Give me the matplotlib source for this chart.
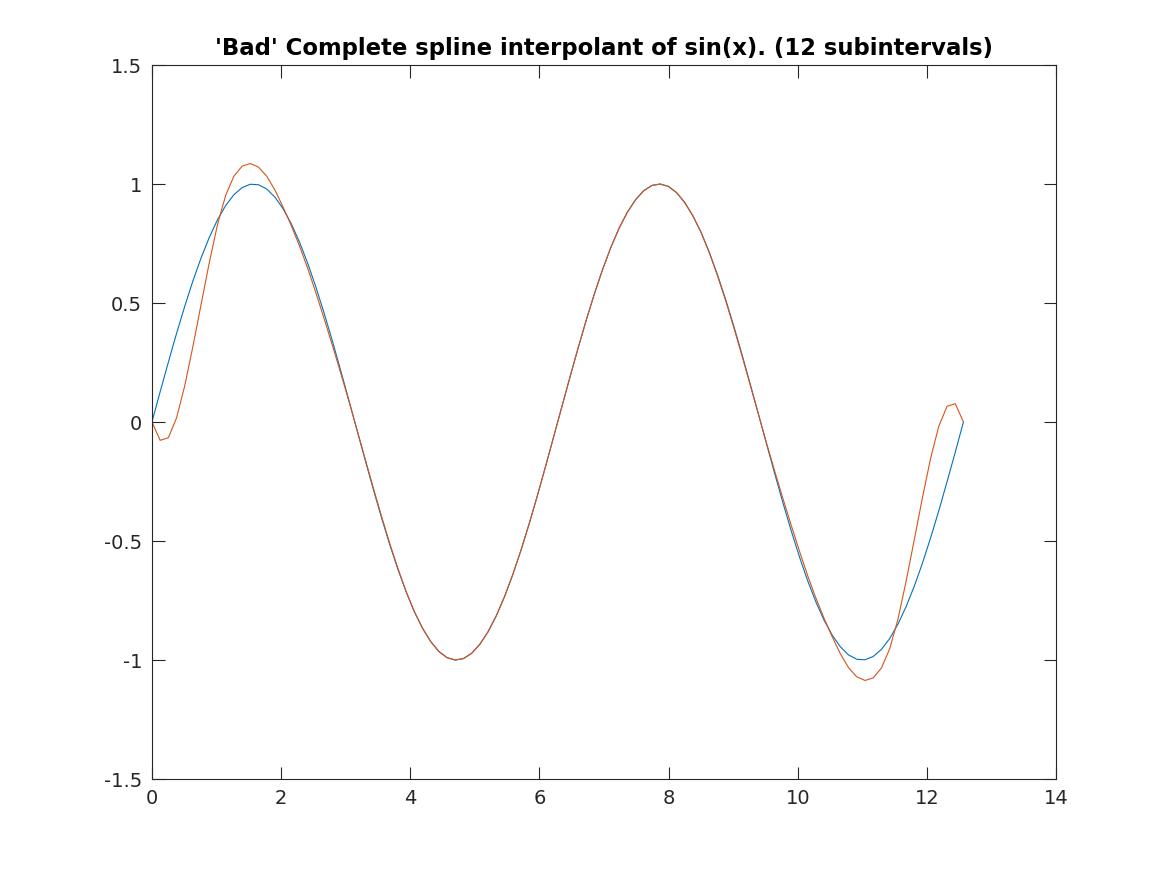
import matplotlib
matplotlib.use('Agg')
from matplotlib import pyplot as plt
import numpy as np

plt.rcParams['axes.unicode_minus'] = False
plt.rcParams['font.family'] = 'DejaVu Sans'

# 100 evenly spaced sample points on [0, 4*pi]
x = np.linspace(0, 4 * np.pi, 100)

# exact function values (blue)
sin_vals = [
    0.000, 0.127, 0.251, 0.372, 0.486, 0.593, 0.690, 0.776, 0.850, 0.910,
    0.955, 0.985, 0.999, 0.997, 0.979, 0.945, 0.896, 0.833, 0.756, 0.667,
    0.567, 0.458, 0.342, 0.220, 0.095, -0.032, -0.158, -0.282, -0.401, -0.514,
    -0.618, -0.713, -0.796, -0.866, -0.922, -0.964, -0.990, -1.000, -0.994, -0.972,
    -0.934, -0.882, -0.815, -0.735, -0.643, -0.541, -0.430, -0.312, -0.189, -0.063,
    0.063, 0.189, 0.312, 0.430, 0.541, 0.643, 0.735, 0.815, 0.882, 0.934,
    0.972, 0.994, 1.000, 0.990, 0.964, 0.922, 0.866, 0.796, 0.713, 0.618,
    0.514, 0.401, 0.282, 0.158, 0.032, -0.095, -0.220, -0.342, -0.458, -0.567,
    -0.667, -0.756, -0.833, -0.896, -0.945, -0.979, -0.997, -0.999, -0.985, -0.955,
    -0.910, -0.850, -0.776, -0.690, -0.593, -0.486, -0.372, -0.251, -0.127, 0.000,
]

# 'bad' complete spline values (orange)
spline_vals = [
    0.000, -0.077, -0.066, 0.017, 0.152, 0.318, 0.495, 0.670, 0.830, 0.953,
    1.033, 1.075, 1.086, 1.071, 1.033, 0.975, 0.903, 0.825, 0.740, 0.646,
    0.543, 0.435, 0.324, 0.209, 0.091, -0.031, -0.154, -0.276, -0.395, -0.509,
    -0.614, -0.711, -0.796, -0.866, -0.922, -0.964, -0.990, -1.000, -0.994, -0.972,
    -0.934, -0.881, -0.815, -0.735, -0.643, -0.541, -0.430, -0.312, -0.189, -0.063,
    0.063, 0.189, 0.312, 0.430, 0.541, 0.643, 0.735, 0.815, 0.881, 0.934,
    0.972, 0.994, 1.000, 0.990, 0.964, 0.922, 0.866, 0.796, 0.711, 0.614,
    0.509, 0.395, 0.276, 0.154, 0.031, -0.091, -0.209, -0.324, -0.435, -0.543,
    -0.646, -0.740, -0.825, -0.903, -0.975, -1.033, -1.071, -1.086, -1.075, -1.033,
    -0.953, -0.830, -0.670, -0.495, -0.318, -0.152, -0.017, 0.066, 0.077, 0.000,
]

xticks = [0, 2, 4, 6, 8, 10, 12, 14]
yticks = [-1.5, -1, -0.5, 0, 0.5, 1, 1.5]
ytick_labels = ['-1.5', '-1', '-0.5', '0', '0.5', '1', '1.5']

fig = plt.figure(figsize=(11.67, 8.75), dpi=100)
ax = fig.add_axes([0.1302, 0.1097, 0.7747, 0.816])

ax.plot(x, sin_vals, color='#0072BD', linewidth=0.8)
ax.plot(x, spline_vals, color='#D95319', linewidth=0.8)

ax.set_xlim(0, 14)
ax.set_ylim(-1.5, 1.5)
ax.set_xticks(xticks)
ax.set_yticks(yticks)
ax.set_yticklabels(ytick_labels)
ax.tick_params(direction='in', length=9, width=0.8, top=True, right=True,
               labelsize=14, colors='#262626', pad=7)
for sp in ax.spines.values():
    sp.set_color('#262626')
    sp.set_linewidth(0.8)

ax.set_title("'Bad' Complete spline interpolant of sin(x). (12 subintervals)",
             fontsize=16.4, fontweight='bold', pad=7)

fig.savefig('out.png', dpi=100)
